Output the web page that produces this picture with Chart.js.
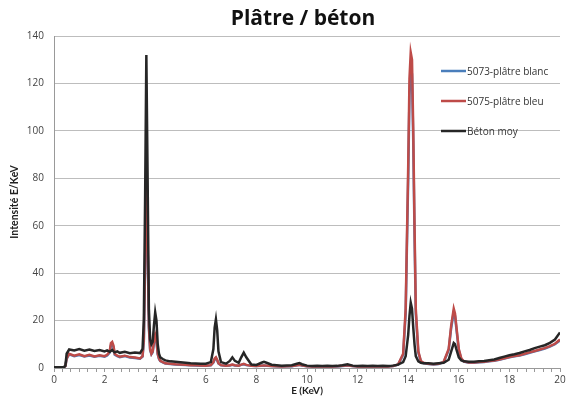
<!DOCTYPE html>
<html>
<head>
<meta charset="utf-8">
<title>Plâtre / béton</title>
<script src="https://cdn.jsdelivr.net/npm/chart.js@4.4.0/dist/chart.umd.min.js"></script>
<style>
    html, body { margin: 0; padding: 0; background: #fff; }
    #wrap { width: 566px; height: 401px; }
</style>
</head>
<body>
<div id="wrap"><canvas id="spectrumChart" width="566" height="401"></canvas></div>
<script>
// Energy axis (keV), shared by all three spectra
const energies = [
    0, 0.2, 0.4, 0.45, 0.5, 0.6, 0.8, 1.0, 1.2, 1.4,
    1.6, 1.8, 2.0, 2.1, 2.2, 2.25, 2.3, 2.35, 2.4, 2.5,
    2.6, 2.8, 3.0, 3.2, 3.4, 3.5, 3.55, 3.6, 3.65, 3.7,
    3.75, 3.8, 3.85, 3.9, 3.95, 4.0, 4.05, 4.1, 4.15, 4.2,
    4.3, 4.4, 4.6, 4.8, 5.0, 5.2, 5.4, 5.6, 5.8, 6.0,
    6.2, 6.3, 6.35, 6.4, 6.45, 6.5, 6.6, 6.8, 6.95, 7.05,
    7.15, 7.3, 7.4, 7.5, 7.6, 7.8, 8.0, 8.2, 8.3, 8.4,
    8.6, 8.8, 9.0, 9.2, 9.4, 9.6, 9.7, 9.8, 10.0, 10.2,
    10.4, 10.6, 10.8, 11.0, 11.2, 11.4, 11.6, 11.8, 12.0, 12.2,
    12.4, 12.6, 12.8, 13.0, 13.2, 13.4, 13.6, 13.8, 13.9, 14.0,
    14.05, 14.1, 14.15, 14.2, 14.25, 14.3, 14.4, 14.5, 14.6, 14.8,
    15.0, 15.2, 15.4, 15.6, 15.7, 15.8, 15.85, 15.9, 16.0, 16.1,
    16.2, 16.4, 16.6, 16.8, 17.0, 17.2, 17.4, 17.6, 17.8, 18.0,
    18.2, 18.4, 18.6, 18.8, 19.0, 19.2, 19.4, 19.6, 19.8, 20.0
];

// 5073-plâtre blanc (mostly hidden under the red one)
const platreBlanc = [
    0.3, 0.3, 0.4, 0.8, 3.8, 5.8, 5.0, 5.5, 4.9, 5.3,
    4.8, 5.2, 4.8, 5.3, 6.5, 9.5, 10, 8.8, 5.6, 5.0,
    4.6, 5.0, 4.4, 4.2, 3.9, 4.8, 11, 42, 76, 52,
    17, 7.5, 5.8, 6.6, 10.5, 13, 11, 5.8, 3.8, 2.9,
    2.4, 1.9, 1.7, 1.5, 1.4, 1.3, 1.2, 1.1, 1.0, 1.0,
    1.1, 2.3, 3.6, 4.2, 3.2, 1.9, 1.1, 1.0, 1.1, 1.4,
    1.1, 1.0, 1.3, 1.6, 1.2, 0.9, 0.8, 0.9, 1.0, 0.9,
    0.8, 0.7, 0.6, 0.7, 0.7, 1.1, 1.3, 1.0, 0.7, 0.6,
    0.6, 0.6, 0.7, 0.6, 0.6, 0.8, 1.1, 0.8, 0.6, 0.6,
    0.6, 0.6, 0.6, 0.6, 0.6, 0.8, 1.4, 5.5, 23, 80,
    115, 126, 124, 95, 56, 23, 6.5, 2.8, 2.1, 1.7,
    1.5, 1.7, 2.4, 7.5, 17, 23.5, 22, 17, 7.5, 3.8,
    2.7, 2.2, 2.2, 2.4, 2.5, 2.8, 3.1, 3.5, 4.0, 4.5,
    4.9, 5.3, 5.8, 6.4, 7.0, 7.6, 8.2, 9.0, 10.0, 11.6
];

// 5075-plâtre bleu
const platreBleu = [
    0.3, 0.3, 0.4, 0.8, 4.0, 6.0, 5.2, 5.8, 5.0, 5.6,
    4.9, 5.4, 5.0, 5.6, 7.0, 10.5, 11, 9.5, 6.0, 5.2,
    4.8, 5.2, 4.6, 4.4, 4.0, 5.0, 12, 45, 80, 55,
    18, 8.0, 6.0, 7.0, 11, 14, 12, 6.0, 4.0, 3.0,
    2.5, 2.0, 1.8, 1.6, 1.5, 1.4, 1.2, 1.2, 1.1, 1.0,
    1.2, 2.5, 4.0, 4.5, 3.5, 2.0, 1.2, 1.0, 1.2, 1.5,
    1.2, 1.0, 1.4, 1.8, 1.3, 0.9, 0.8, 1.0, 1.1, 1.0,
    0.8, 0.7, 0.6, 0.7, 0.8, 1.2, 1.4, 1.1, 0.7, 0.6,
    0.7, 0.6, 0.7, 0.6, 0.7, 0.9, 1.2, 0.8, 0.6, 0.7,
    0.6, 0.7, 0.6, 0.7, 0.6, 0.8, 1.5, 6.0, 25, 85,
    122, 133, 130, 100, 60, 25, 7.0, 3.0, 2.2, 1.8,
    1.6, 1.8, 2.5, 8.0, 18, 25, 23, 18, 8.0, 4.0,
    2.8, 2.3, 2.3, 2.5, 2.6, 2.9, 3.2, 3.6, 4.1, 4.6,
    5.0, 5.4, 6.0, 6.6, 7.2, 7.8, 8.4, 9.2, 10.2, 12
];

// Béton moy
const betonMoy = [
    0.3, 0.3, 0.4, 1.0, 6.0, 7.8, 7.4, 8.0, 7.3, 7.8,
    7.2, 7.6, 7.0, 7.4, 6.8, 7.2, 7.6, 7.0, 6.6, 7.0,
    6.4, 6.8, 6.2, 6.5, 6.3, 8.0, 20, 70, 132, 80,
    25, 12, 10, 11, 18, 23.5, 20, 10, 6.0, 4.5,
    3.8, 3.2, 2.8, 2.6, 2.4, 2.2, 2.0, 1.9, 1.8, 1.8,
    2.5, 8.0, 17, 20.5, 16, 7.0, 2.5, 1.8, 3.0, 4.5,
    3.0, 2.2, 4.5, 6.5, 4.5, 1.5, 1.3, 2.2, 2.6, 2.2,
    1.4, 1.2, 1.0, 1.1, 1.2, 1.8, 2.1, 1.6, 1.0, 0.8,
    0.9, 0.8, 0.9, 0.8, 0.9, 1.2, 1.6, 1.0, 0.8, 0.9,
    0.8, 0.9, 0.8, 0.9, 0.8, 1.0, 1.4, 2.5, 5.0, 14,
    22, 27.5, 25, 17, 10, 5.0, 2.8, 2.2, 2.0, 2.0,
    1.8, 2.0, 2.2, 3.5, 7.0, 10.5, 10, 8.0, 4.5, 3.2,
    2.8, 2.6, 2.6, 2.8, 3.0, 3.3, 3.6, 4.2, 4.8, 5.4,
    5.8, 6.3, 7.0, 7.6, 8.4, 9.0, 9.6, 10.6, 12.0, 15
];

const seriesLabels = ['5073-plâtre blanc', '5075-plâtre bleu', 'Béton moy'];
const xLabelEvery = 2;      // keV between x labels
const xMinorStep = 1 / 3;   // small tick marks on the x axis

const FONT = '"Open Sans", sans-serif';
const FONT_AXIS = 'Lato, sans-serif';

function toPoints(values) {
    return energies.map((e, i) => ({ x: e, y: values[i] }));
}

// Title centred over the plot area, legend drawn inside the plot
const overlayPlugin = {
    id: 'overlay',
    afterDatasetsDraw(chart) {
        const ctx = chart.ctx;
        const area = chart.chartArea;

        ctx.save();
        ctx.font = `bold 21px ${FONT}`;
        ctx.fillStyle = '#111';
        ctx.textAlign = 'center';
        ctx.textBaseline = 'middle';
        ctx.fillText('Plâtre / béton', (area.left + area.right) / 2 - 4, 19);

        // legend
        ctx.font = `10px ${FONT}`;
        ctx.textAlign = 'left';
        chart.data.datasets.forEach((ds, i) => {
            const y = 71 + i * 30;
            ctx.strokeStyle = ds.borderColor;
            ctx.lineWidth = 2.5;
            ctx.beginPath();
            ctx.moveTo(441, y);
            ctx.lineTo(466, y);
            ctx.stroke();
            ctx.fillStyle = '#333';
            ctx.fillText(ds.label, 467, y + 1);
        });
        ctx.restore();
    }
};

class SpectrumChart {
    constructor() {
        this.chart = null;
        this.init();
    }

    init() {
        const ctx = document.getElementById('spectrumChart').getContext('2d');

        this.chart = new Chart(ctx, {
            type: 'line',
            data: {
                datasets: [
                    { label: seriesLabels[0], data: toPoints(platreBlanc), borderColor: '#4a7ebb', order: 2 },
                    { label: seriesLabels[1], data: toPoints(platreBleu), borderColor: '#be4b48', order: 1 },
                    { label: seriesLabels[2], data: toPoints(betonMoy), borderColor: '#262626', order: 0 }
                ].map(ds => Object.assign(ds, {
                    borderWidth: 2.5,
                    pointRadius: 0,
                    tension: 0,
                    fill: false
                }))
            },
            options: {
                responsive: false,
                animation: false,
                layout: { padding: { top: 36, right: 6, left: 8, bottom: 4 } },
                plugins: {
                    legend: { display: false },
                    title: { display: false },
                    tooltip: { enabled: false }
                },
                scales: {
                    x: {
                        type: 'linear',
                        min: 0,
                        max: 20,
                        afterFit: (scale) => {
                            scale.height = 29;
                            scale.paddingRight = 0;  // let the "20" label overhang like the original
                        },
                        ticks: {
                            stepSize: xMinorStep,
                            autoSkip: false,
                            maxRotation: 0,
                            padding: 2,
                            color: '#444',
                            font: { family: FONT, size: 10 },
                            callback: (value) => {
                                const r = Math.round(value);
                                return Math.abs(value - r) < 1e-6 && r % xLabelEvery === 0 ? String(r) : '';
                            }
                        },
                        grid: {
                            drawOnChartArea: false,
                            drawTicks: true,
                            tickLength: 4,
                            color: '#999'
                        },
                        border: { color: '#999' },
                        title: {
                            display: true,
                            text: 'E (KeV)',
                            color: '#222',
                            padding: 0,
                            font: { family: FONT_AXIS, size: 10, weight: 'bold' }
                        }
                    },
                    y: {
                        min: 0,
                        max: 140,
                        afterFit: (scale) => { scale.width = 46; },
                        ticks: {
                            stepSize: 20,
                            padding: 10,
                            color: '#444',
                            font: { family: FONT, size: 10 }
                        },
                        grid: {
                            color: '#bdbdbd',
                            drawTicks: false
                        },
                        border: { color: '#999' },
                        title: {
                            display: true,
                            text: 'Intensité E/KeV',
                            color: '#222',
                            padding: 0,
                            font: { family: FONT_AXIS, size: 10.5, weight: 'bold' }
                        }
                    }
                }
            },
            plugins: [overlayPlugin]
        });
    }
}

document.addEventListener('DOMContentLoaded', () => {
    window.spectrumChart = new SpectrumChart();
});
</script>
</body>
</html>
